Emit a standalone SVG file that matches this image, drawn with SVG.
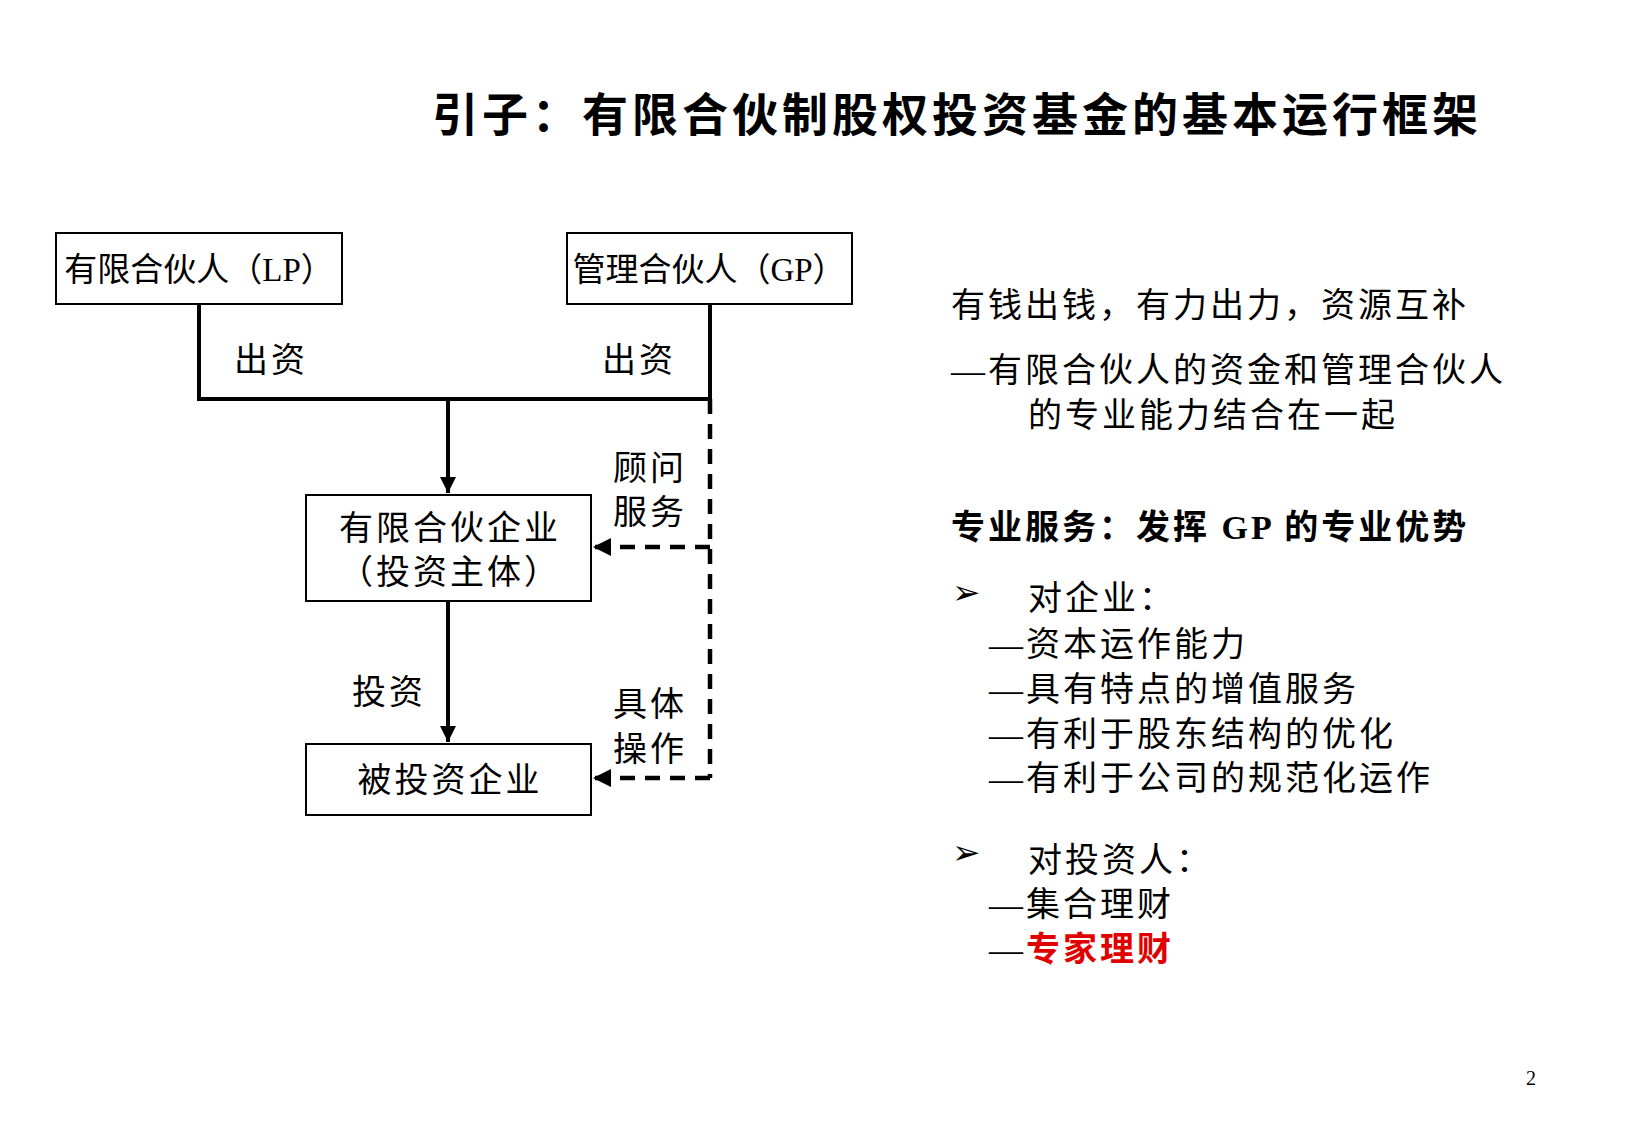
<svg xmlns="http://www.w3.org/2000/svg" width="1625" height="1125" viewBox="0 0 1625 1125">
<style>
text{font-family:"Liberation Serif","Noto Sans CJK SC",serif;fill:#000;dominant-baseline:central}
.t{font-size:34px;letter-spacing:3px}
.b{font-size:33px;letter-spacing:0}
.c{text-anchor:middle}
.box{fill:#fff;stroke:#000;stroke-width:2}
.solid{fill:none;stroke:#000;stroke-width:4}
.dash{fill:none;stroke:#000;stroke-width:4.5;stroke-dasharray:15 10}
</style>
<defs>
<marker id="ah" viewBox="0 0 10 10" refX="10" refY="5" markerWidth="4" markerHeight="4" orient="auto" markerUnits="strokeWidth"><path d="M0,0L10,5L0,10z" fill="#000"/></marker>
</defs>
<rect width="1625" height="1125" fill="#fff"/>
<text x="957" y="115" class="c" style="font-size:46px;font-weight:bold;letter-spacing:4px">引子：有限合伙制股权投资基金的基本运行框架</text>
<g id="connectors">
<path class="solid" d="M199,304V399H710V304"/>
<path class="solid" d="M448,399V493" marker-end="url(#ah)"/>
<path class="solid" d="M448,601V742" marker-end="url(#ah)"/>
<path class="dash" d="M710,399V778"/>
<path class="dash" d="M710,547H593" marker-end="url(#ah)"/>
<path class="dash" d="M710,778H593" marker-end="url(#ah)"/>
<text x="271" y="360" class="t c">出资</text>
<text x="639" y="360" class="t c">出资</text>
<text x="389" y="692" class="t c">投资</text>
<text x="650" y="468" class="t c">顾问</text>
<text x="650" y="512" class="t c">服务</text>
<text x="650" y="704" class="t c">具体</text>
<text x="650" y="749" class="t c">操作</text>
</g>
<g id="lp"><rect class="box" x="56" y="233" width="286" height="71"/><text x="199" y="270" class="b c">有限合伙人（LP）</text></g>
<g id="gp"><rect class="box" x="567" y="233" width="285" height="71"/><text x="709" y="270" class="b c">管理合伙人（GP）</text></g>
<g id="lpe"><rect class="box" x="306" y="495" width="285" height="106"/><text x="450" y="528" class="t c">有限合伙企业</text><text x="450" y="572" class="t c">（投资主体）</text></g>
<g id="target"><rect class="box" x="306" y="744" width="285" height="71"/><text x="450" y="780" class="t c">被投资企业</text></g>
<g id="notes">
<text x="951" y="305" class="t">有钱出钱，有力出力，资源互补</text>
<text x="951" y="370" class="t">—有限合伙人的资金和管理合伙人</text>
<text x="1028" y="415" class="t">的专业能力结合在一起</text>
<text x="951" y="527" class="t" style="font-weight:bold">专业服务：发挥 GP 的专业优势</text>
<text x="952" y="592" class="t">➢</text>
<text x="1028" y="598" class="t">对企业：</text>
<text x="989" y="644" class="t">—资本运作能力</text>
<text x="989" y="689" class="t">—具有特点的增值服务</text>
<text x="989" y="734" class="t">—有利于股东结构的优化</text>
<text x="989" y="778" class="t">—有利于公司的规范化运作</text>
<text x="952" y="852" class="t">➢</text>
<text x="1028" y="860" class="t">对投资人：</text>
<text x="989" y="904" class="t">—集合理财</text>
<text x="989" y="949" class="t">—<tspan style="fill:#e00000;font-weight:bold">专家理财</tspan></text>
</g>
<text x="1531" y="1078" class="c" style="font-size:20px">2</text>
</svg>
